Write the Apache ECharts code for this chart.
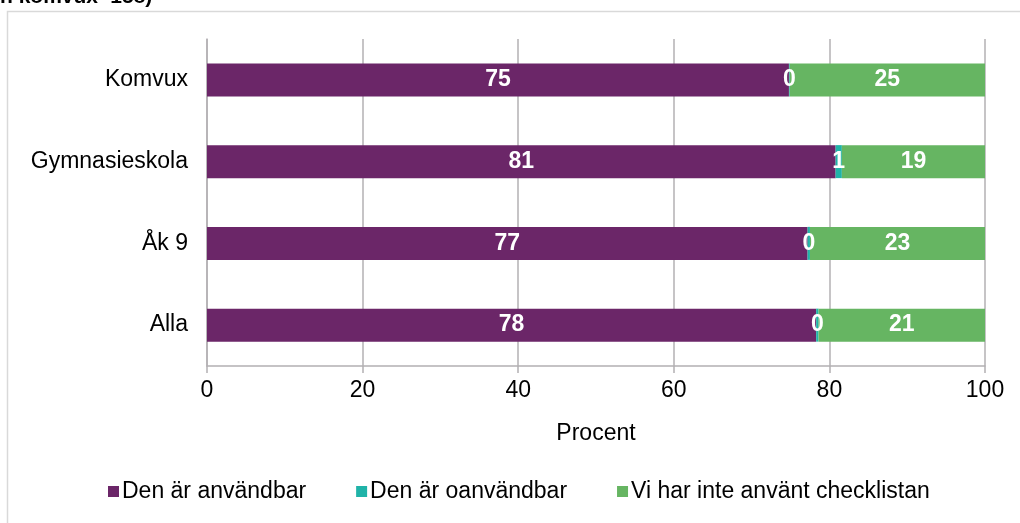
<!DOCTYPE html>
<html>
<head>
<meta charset="utf-8">
<script src="https://cdn.jsdelivr.net/npm/echarts@6/dist/echarts.min.js"></script>
<style>
html,body{margin:0;padding:0;background:#fff;}
#main{width:1020px;height:523px;}
</style>
</head>
<body>
<div id="main"></div>
<script>
var categories = ['Komvux', 'Gymnasieskola', 'Åk 9', 'Alla'];
var seriesNames = ['Den är användbar', 'Den är oanvändbar', 'Vi har inte använt checklistan'];
var usable = [74.8, 80.8, 77.2, 78.3];
var unusable = [0.1, 0.8, 0.3, 0.3];
var notUsed = [25.1, 18.7, 22.5, 21.4];
var xTicks = [0, 20, 40, 60, 80, 100];
var colors = ['#6b2668', '#20b3a8', '#66b562'];

var myChart = echarts.init(document.getElementById('main'));
var fontName = 'Liberation Sans, Arial, sans-serif';
var labelStyle = {
	show: true,
	position: 'inside',
	color: '#fff',
	fontWeight: 'bold',
	fontSize: 23,
	fontFamily: fontName,
	formatter: function (p) { return Math.round(p.value); }
};
function makeSeries(i, data) {
	return {
		name: seriesNames[i],
		type: 'bar',
		stack: 'total',
		barWidth: 33,
		data: data,
		itemStyle: { color: colors[i] },
		label: labelStyle
	};
}
var option = {
	animation: false,
	textStyle: { fontFamily: fontName },
	graphic: [
		{
			type: 'rect',
			shape: { x: 7.5, y: 11.5, width: 1100, height: 600 },
			style: { fill: 'none', stroke: '#d9d9d9', lineWidth: 1.5 },
			silent: true
		},
		{
			type: 'text',
			left: 0,
			top: -13,
			style: { text: 'n komvux=158)', font: 'bold 21px Liberation Sans, Arial, sans-serif', fill: '#000' }
		}
	],
	grid: { left: 207, right: 35, top: 39, bottom: 157 },
	legend: {
		data: seriesNames,
		left: 103,
		bottom: 15,
		itemWidth: 11,
		itemHeight: 11,
		itemGap: 50,
		icon: 'rect',
		textStyle: { fontSize: 23, color: '#000', fontFamily: fontName, padding: [0, 0, 0, -2] }
	},
	xAxis: {
		type: 'value',
		min: xTicks[0],
		max: xTicks[xTicks.length - 1],
		interval: 20,
		name: 'Procent',
		nameLocation: 'middle',
		nameGap: 56,
		nameTextStyle: { fontSize: 23, color: '#000', fontFamily: fontName },
		axisLine: { show: true, lineStyle: { color: '#b3b0b3', width: 1.5 } },
		axisTick: { show: true, length: 7, lineStyle: { color: '#b3b0b3', width: 1.5 } },
		axisLabel: { fontSize: 23, color: '#000', margin: 13, fontFamily: fontName },
		splitLine: { show: true, lineStyle: { color: '#b3b0b3', width: 1.5 } }
	},
	yAxis: {
		type: 'category',
		data: categories,
		inverse: true,
		axisLine: { show: true, lineStyle: { color: '#b3b0b3', width: 1.5 } },
		axisTick: { show: false },
		axisLabel: { fontSize: 23, color: '#000', margin: 19, fontFamily: fontName }
	},
	series: [
		makeSeries(0, usable),
		makeSeries(1, unusable),
		makeSeries(2, notUsed)
	]
};
myChart.setOption(option);
</script>
</body>
</html>
